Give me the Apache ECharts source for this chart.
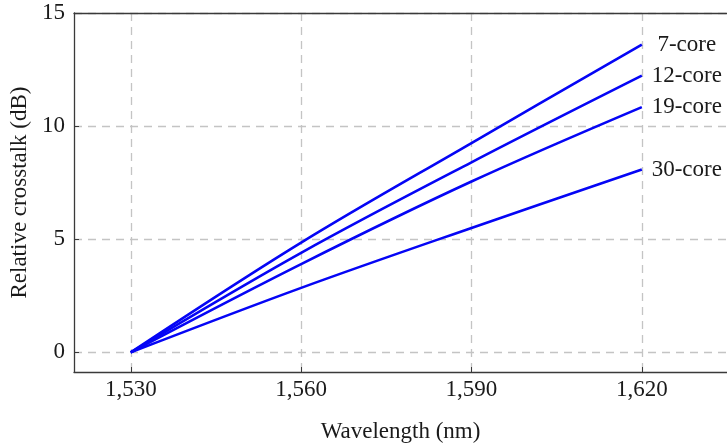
<!DOCTYPE html>
<html>
<head>
<meta charset="utf-8">
<script src="https://cdn.jsdelivr.net/npm/echarts@6/dist/echarts.min.js"></script>
<style>
  html, body { margin: 0; padding: 0; background: #fff; }
  #chart { width: 727px; height: 448px; }
</style>
</head>
<body>
<div id="chart"></div>
<script>
// Wavelength sample points (nm)
const wavelengths = [1530, 1560, 1590, 1620];

// Relative crosstalk (dB) per fibre core count
const core7 = [0, 4.85, 9.25, 13.6];
const core12 = [0, 4.4, 8.4, 12.23];
const core19 = [0, 3.9, 7.55, 10.84];
const core30 = [0, 2.85, 5.5, 8.08];

const seriesNames = ['7-core', '12-core', '19-core', '30-core'];
const seriesValues = [core7, core12, core19, core30];

// Tick labels
const xTicks = [1530, 1560, 1590, 1620];
const yTicks = [0, 5, 10, 15];

const FONT = '"Liberation Serif", "DejaVu Serif", serif';
const FS = 23;
const TEXT = '#1a1a1a';
const AXIS = '#3a3a3a';
const GRID = '#c4c4c4';

const chart = echarts.init(document.getElementById('chart'), null, { renderer: 'canvas' });

const series = seriesNames.map((name, i) => ({
  name,
  type: 'line',
  data: wavelengths.map((w, j) => [w, seriesValues[i][j]]),
  smooth: 0.35,
  showSymbol: false,
  symbol: 'none',
  lineStyle: { color: '#0505f5', width: 2.6 },
  itemStyle: { color: '#0505f5' },
  endLabel: {
    show: true,
    formatter: name,
    fontFamily: FONT,
    fontSize: FS,
    color: TEXT,
    align: 'center',
    verticalAlign: 'middle',
    distance: 0,
    offset: [45, 0]
  },
  animation: false
}));

chart.setOption({
  animation: false,
  grid: { left: 74, right: 0, top: 13, bottom: 76, containLabel: false },
  xAxis: [{
    type: 'value',
    min: 1520,
    max: 1635,
    name: 'Wavelength (nm)',
    nameLocation: 'middle',
    nameGap: 48,
    nameTextStyle: { fontFamily: FONT, fontSize: FS, color: TEXT },
    axisLine: { show: true, onZero: false, lineStyle: { color: AXIS, width: 1.3 } },
    axisTick: { show: true, inside: true, length: 5, customValues: xTicks, lineStyle: { color: AXIS } },
    axisLabel: {
      customValues: xTicks,
      margin: 6,
      fontFamily: FONT,
      fontSize: FS,
      color: TEXT,
      formatter: v => v.toLocaleString('en-US')
    },
    splitLine: { show: true, lineStyle: { color: GRID, width: 1.3, type: [8, 6] } }
  }, {
    // top frame line
    type: 'value',
    position: 'top',
    min: 1520,
    max: 1635,
    axisLine: { show: true, onZero: false, lineStyle: { color: AXIS, width: 1.3 } },
    axisTick: { show: false },
    axisLabel: { show: false },
    splitLine: { show: false }
  }],
  yAxis: {
    type: 'value',
    min: -0.87,
    max: 15,
    name: 'Relative crosstalk (dB)',
    nameLocation: 'middle',
    nameGap: 37,
    nameTextStyle: { fontFamily: FONT, fontSize: FS, color: TEXT },
    axisLine: { show: true, onZero: false, lineStyle: { color: AXIS, width: 1.3 } },
    axisTick: { show: true, inside: true, length: 5, customValues: yTicks, lineStyle: { color: AXIS } },
    axisLabel: {
      customValues: yTicks,
      margin: 9,
      fontFamily: FONT,
      fontSize: FS,
      color: TEXT
    },
    splitLine: { show: true, lineStyle: { color: GRID, width: 1.3, type: [8, 6] } }
  },
  series
});
</script>
</body>
</html>
